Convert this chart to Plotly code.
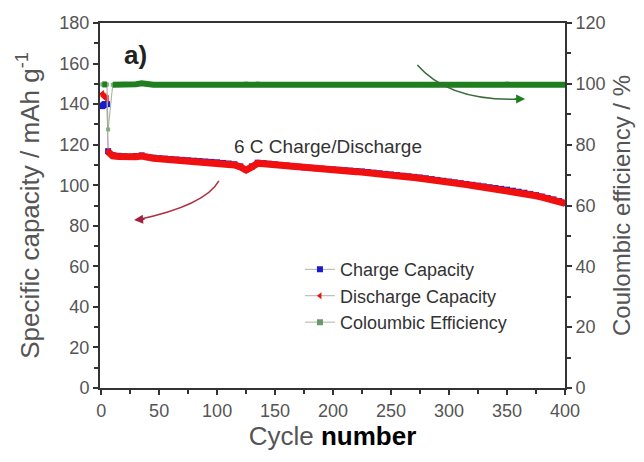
import plotly.graph_objects as go

# ---- data ----
cycles = [1, 2, 3, 4, 5, 6] + list(range(10, 401, 5))
discharge = [145.0, 144.0, 143.5, 143.0, 142.5, 116.5,
             114.5, 114.2, 114.0, 113.8, 114.1, 114.4, 113.6, 113.3, 113.0,
             112.8, 112.6, 112.4, 112.2, 112.0, 111.8, 111.6, 111.4, 111.2, 111.0,
             110.7, 110.4, 110.0, 109.0, 107.5, 109.0, 110.8, 110.6, 110.3, 110.0,
             109.7, 109.4, 109.1, 108.8, 108.5, 108.3, 108.1, 107.9, 107.7, 107.5,
             107.3, 107.1, 106.9, 106.7, 106.5, 106.2, 105.9, 105.6, 105.3, 105.0,
             104.7, 104.4, 104.1, 103.8, 103.5, 103.1, 102.7, 102.3, 101.9, 101.5,
             101.1, 100.7, 100.3, 99.9, 99.5, 99.1, 98.7, 98.3, 97.9, 97.5,
             97.0, 96.5, 96.0, 95.4, 94.8, 94.1, 93.4, 92.7, 91.9, 91.0]
charge = [139.0, 139.5, 140.0, 140.0, 140.0, 116.8,
          114.8, 114.5, 114.3, 114.1, 114.4, 114.7, 113.9, 113.6, 113.3,
          113.1, 112.9, 112.7, 112.5, 112.3, 112.1, 111.9, 111.7, 111.5, 111.3,
          111.0, 110.7, 110.3, 109.3, 107.8, 109.3, 111.1, 110.9, 110.6, 110.3,
          110.0, 109.7, 109.4, 109.1, 108.8, 108.6, 108.4, 108.2, 108.0, 107.8,
          107.6, 107.4, 107.2, 107.0, 106.8, 106.5, 106.2, 105.9, 105.6, 105.3,
          105.0, 104.7, 104.4, 104.1, 103.8, 103.4, 103.0, 102.6, 102.2, 101.8,
          101.4, 101.0, 100.6, 100.2, 99.8, 99.4, 99.0, 98.6, 98.2, 97.8,
          97.3, 96.8, 96.3, 95.7, 95.1, 94.4, 93.7, 93.0, 92.2, 91.3]
efficiency = [99.8, 99.8, 99.8, 99.8, 99.8, 85.0,
              99.7, 99.7, 99.7, 99.7, 99.9, 100.2, 99.7, 99.7, 99.7,
              99.7, 99.7, 99.7, 99.7, 99.7, 99.7, 99.7, 99.7, 99.7, 99.7,
              99.7, 99.7, 99.7, 99.8, 100.1, 99.8, 100.1, 99.7, 99.7, 99.7,
              99.7, 99.7, 99.7, 99.7, 99.7, 99.7, 99.7, 99.7, 99.7, 99.7,
              99.7, 99.7, 99.7, 99.7, 99.7, 99.7, 99.7, 99.7, 99.7, 99.7,
              99.7, 99.7, 99.7, 99.7, 99.7, 99.7, 99.7, 99.7, 99.7, 99.7,
              99.7, 99.7, 99.7, 99.7, 99.7, 99.7, 99.7, 99.7, 99.7, 100.1,
              99.7, 99.7, 99.7, 99.7, 99.7, 99.7, 99.7, 99.7, 99.7, 99.7]

x_ticks = [0, 50, 100, 150, 200, 250, 300, 350, 400]
y_ticks = [0, 20, 40, 60, 80, 100, 120, 140, 160, 180]
y2_ticks = [0, 20, 40, 60, 80, 100, 120]

RED = "#f01010"
BLUE = "#1a1acc"
GREEN = "#1f7f1f"
FONT = "Liberation Sans, Arial, sans-serif"
N0 = 6  # first cycles (formation) drawn with thin connectors

fig = go.Figure()

# thin connectors over all cycles
fig.add_trace(go.Scatter(x=cycles, y=efficiency, yaxis="y2", mode="lines+markers",
                         line=dict(color="#9ab09a", width=1), marker=dict(symbol="square", size=4, color="#7fae7f"),
                         showlegend=False))
fig.add_trace(go.Scatter(x=cycles, y=charge, mode="lines+markers",
                         line=dict(color="#a0a4b4", width=1), marker=dict(symbol="square", size=6, color=BLUE),
                         showlegend=False))
fig.add_trace(go.Scatter(x=cycles[:N0], y=discharge[:N0], mode="lines+markers",
                         line=dict(color="#c0a0a0", width=1), marker=dict(symbol="triangle-left", size=7, color=RED),
                         showlegend=False))
# thick bands for the 6C cycling
fig.add_trace(go.Scatter(x=cycles[:N0 - 1], y=efficiency[:N0 - 1], yaxis="y2", mode="lines",
                         line=dict(color=GREEN, width=6), showlegend=False))
fig.add_trace(go.Scatter(x=cycles[N0:], y=efficiency[N0:], yaxis="y2", mode="lines",
                         line=dict(color=GREEN, width=6), showlegend=False))
fig.add_trace(go.Scatter(x=cycles[N0 - 1:], y=discharge[N0 - 1:], mode="lines",
                         line=dict(color=RED, width=7), showlegend=False))

# legend entries
for nm, col, sym in [("Charge Capacity", BLUE, "square"),
                     ("Discharge Capacity", RED, "triangle-left"),
                     ("Coloumbic Efficiency", "#6a9a6a", "square")]:
    fig.add_trace(go.Scatter(x=[None], y=[None], mode="lines+markers", name=nm,
                             line=dict(color="#b0b0b0", width=1),
                             marker=dict(symbol=sym, size=6, color=col)))

axis_common = dict(showline=True, linecolor="#333", linewidth=2, ticks="outside",
                   ticklen=5, tickwidth=2, tickcolor="#333", showgrid=False, zeroline=False,
                   automargin=False,
                   tickfont=dict(family=FONT, size=18, color="#555"))

fig.update_layout(
    width=644, height=462,
    margin=dict(l=92, r=87, t=15, b=82),
    paper_bgcolor="white", plot_bgcolor="white",
    font=dict(family=FONT),
    xaxis=dict(range=[-1, 400], tickvals=x_ticks, mirror=True,
               minor=dict(ticks="outside", ticklen=4, tickwidth=2, tickcolor="#333", dtick=25),
               title=dict(text="<span style='color:#555'>Cycle</span> <b><span style='color:#000'>number</span></b>",
                          font=dict(family=FONT, size=26), standoff=6),
               **axis_common),
    yaxis=dict(range=[0, 180], tickvals=y_ticks,
               minor=dict(ticks="outside", ticklen=4, tickwidth=2, tickcolor="#333", dtick=10),
               title=dict(text="Specific capacity / mAh g<sup>-1</sup>",
                          font=dict(family=FONT, size=26, color="#555"), standoff=12),
               **axis_common),
    yaxis2=dict(range=[0, 120], tickvals=y2_ticks, overlaying="y", side="right",
                minor=dict(ticks="outside", ticklen=4, tickwidth=2, tickcolor="#333", dtick=10),
                title=dict(text="Coulombic efficiency / %",
                           font=dict(family=FONT, size=24, color="#555"), standoff=9),
                **axis_common),
    legend=dict(x=0.43, y=0.375, xanchor="left", yanchor="top", bgcolor="rgba(0,0,0,0)",
                font=dict(family=FONT, size=18, color="#333"), itemwidth=30, tracegroupgap=0),
    showlegend=True,
)

fig.add_annotation(x=30, y=164, xref="x", yref="y", text="<b>a)</b>", showarrow=False,
                   font=dict(family=FONT, size=26, color="#222"))
fig.add_annotation(x=196, y=119, xref="x", yref="y", text="6 C Charge/Discharge", showarrow=False,
                   font=dict(family=FONT, size=19, color="#333"))

# curved arrows
fig.add_shape(type="path", xref="x", yref="y",
              path="M 101.5,102.1 Q 89.9,90.0 30.5,82.8",
              line=dict(color="#b03040", width=1.5))
fig.add_annotation(x=28.4, y=82.8, xref="x", yref="y", ax=12, ay=-1, axref="pixel", ayref="pixel",
                   showarrow=True, arrowhead=2, arrowsize=1.2, arrowwidth=1.5, arrowcolor="#a02040", text="")
fig.add_shape(type="path", xref="x", yref="y",
              path="M 272.7,159.3 Q 300.2,141.0 363.5,142.5",
              line=dict(color="#3a6a3a", width=1.5))
fig.add_annotation(x=365.6, y=142.5, xref="x", yref="y", ax=-12, ay=0, axref="pixel", ayref="pixel",
                   showarrow=True, arrowhead=2, arrowsize=1.2, arrowwidth=1.5, arrowcolor="#1f7f1f", text="")

fig.write_html("out.html")
